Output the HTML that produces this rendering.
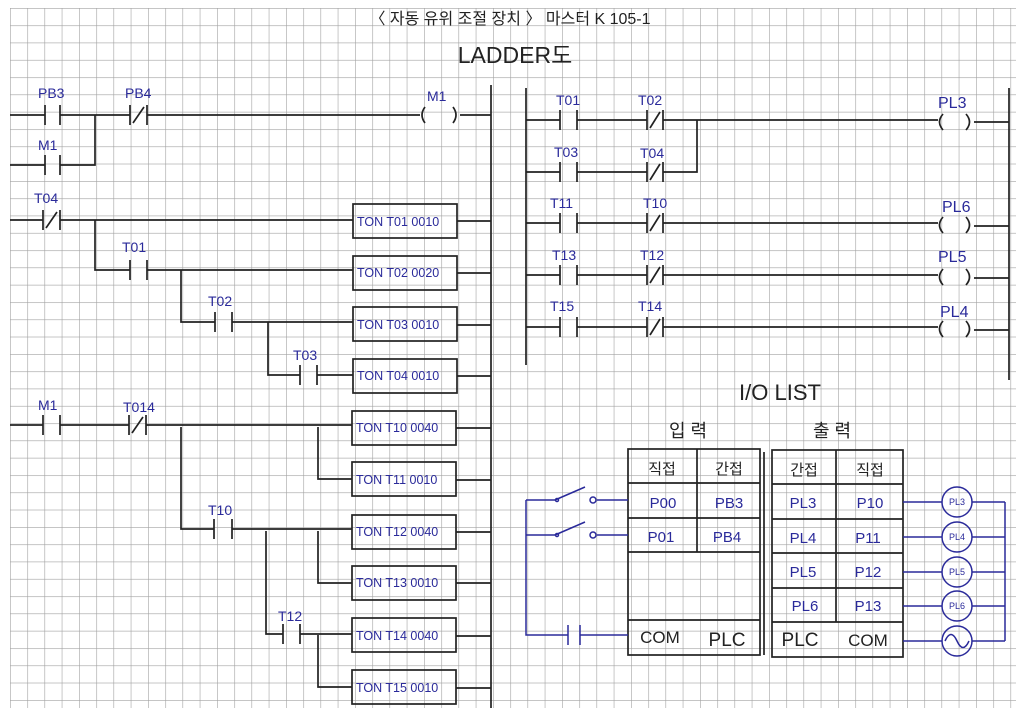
<!DOCTYPE html>
<html><head><meta charset="utf-8"><style>
html,body{margin:0;padding:0;background:#fff;}
svg{display:block}
.b{font-family:"Liberation Sans","Noto Sans CJK KR",sans-serif;fill:#2a2a9a;}
.k{font-family:"Liberation Sans","Noto Sans CJK KR",sans-serif;fill:#222;}
</style></head><body>
<svg width="1024" height="723" viewBox="0 0 1024 723" xmlns="http://www.w3.org/2000/svg">
<defs>
<pattern id="g" x="10" y="8" width="17.25" height="17.3" patternUnits="userSpaceOnUse">
<path d="M0 0H17.25M0 0V17.3" stroke="#a2a2a2" stroke-width="1.2" fill="none"/>
</pattern>
</defs>
<rect x="10" y="8" width="1006" height="700" fill="url(#g)"/>
<g stroke="#222" stroke-width="1.7" fill="none">
<path d="M491 85V708M526 88V365M1009 88V380"/>
<path d="M10 115H45M60 115H130M147 115H420M460 115H491"/>
<path d="M45 105V125M60 105V125M130 105V125M147 105V125M133 123L144 107"/>
<path d="M425 107Q419 115 425 123M453 107Q459 115 453 123"/>
<path d="M10 165H45M60 165H95V115M45 155V175M60 155V175"/>
<path d="M10 220H43M60 220H353M43 210V230M60 210V230M46 228L57 212"/>
<path d="M95 220V270H130M147 270H353M130 260V280M147 260V280"/>
<path d="M181 270V322H215M232 322H353M215 312V332M232 312V332"/>
<path d="M268 322V375H300M317 375H353M300 365V385M317 365V385"/>
<rect x="353" y="204" width="104" height="34"/>
<rect x="353" y="256" width="104" height="34"/>
<rect x="353" y="307" width="104" height="34"/>
<rect x="353" y="359" width="104" height="34"/>
<path d="M457 221H491M457 273H491M457 325H491M457 376H491"/>
<path d="M10 425H43M60 425H129M146 425H352M43 415V435M60 415V435M129 415V435M146 415V435M132 433L143 417"/>
<path d="M318 427V479H352"/>
<path d="M181 427V529H214M232 529H352M214 519V539M232 519V539"/>
<path d="M318 531V583H352"/>
<path d="M266 531V634H283M300 634H352M283 624V644M300 624V644"/>
<path d="M318 635V687H352"/>
<rect x="352" y="411" width="104" height="34"/>
<rect x="352" y="462" width="104" height="34"/>
<rect x="352" y="515" width="104" height="34"/>
<rect x="352" y="566" width="104" height="34"/>
<rect x="352" y="618" width="104" height="34"/>
<rect x="352" y="670" width="104" height="34"/>
<path d="M456 428H491M456 480H491M456 532H491M456 583H491M456 636H491M456 688H491"/>
<g>
<path d="M526 120H560M577 120H647M663 120H938M974 122H1009"/>
<path d="M526 172H560M577 172H647M663 172H697V120"/>
<path d="M526 223H560M577 223H647M663 223H938M974 226H1009"/>
<path d="M526 275H560M577 275H647M663 275H938M974 278H1009"/>
<path d="M526 327H560M577 327H647M663 327H938M974 330H1009"/>
<path d="M560 110V130M577 110V130M647 110V130M663 110V130M650 128L660 112"/>
<path d="M560 162V182M577 162V182M647 162V182M663 162V182M650 180L660 164"/>
<path d="M560 213V233M577 213V233M647 213V233M663 213V233M650 231L660 215"/>
<path d="M560 265V285M577 265V285M647 265V285M663 265V285M650 283L660 267"/>
<path d="M560 317V337M577 317V337M647 317V337M663 317V337M650 335L660 319"/>
<path d="M943 114Q936 122 943 130M966 114Q973 122 966 130"/>
<path d="M943 217Q936 225 943 233M966 217Q973 225 966 233"/>
<path d="M943 269Q936 277 943 285M966 269Q973 277 966 285"/>
<path d="M943 321Q936 329 943 337M966 321Q973 329 966 337"/>
</g>
<rect x="628" y="449" width="132" height="206"/>
<path d="M628 483H760M628 518H760M628 552H760M628 620H760M697 449V552M764 452V655"/>
<rect x="772" y="450" width="131" height="207"/>
<path d="M772 484H903M772 519H903M772 553H903M772 588H903M772 622H903M836 450V622"/>
</g>
<g stroke="#2a2a9a" stroke-width="1.5" fill="none">
<path d="M526 500H555M597 500H628M526 535H555M597 535H628M526 500V635H568M580 635H628"/>
<path d="M555 500L585 487M555 535L585 522"/>
<circle cx="593" cy="500" r="3"/><circle cx="593" cy="535" r="3"/>
<circle cx="557" cy="500" r="1.5"/><circle cx="557" cy="535" r="1.5"/>
<path d="M568 625V645M580 625V645"/>
<path d="M903 502H942M903 537H942M903 572H942M903 606H942M903 641H942"/>
<path d="M972 502H1005M972 537H1005M972 572H1005M972 606H1005M972 641H1005M1005 502V641"/>
<circle cx="957" cy="502" r="15"/><circle cx="957" cy="537" r="15"/><circle cx="957" cy="572" r="15"/><circle cx="957" cy="606" r="15"/><circle cx="957" cy="641" r="15"/>
<path d="M945 641Q951 628 957 641T969 641"/>
</g>
<text class="k" x="510" y="24" font-size="16" text-anchor="middle">〈 자동  유위  조절  장치 〉   마스터 K    105-1</text>
<text class="k" x="515" y="63" font-size="23" text-anchor="middle">LADDER도</text>
<g class="b" font-size="14">
<text x="38" y="98">PB3</text><text x="125" y="98">PB4</text><text x="38" y="150">M1</text>
<text x="34" y="203">T04</text><text x="122" y="252">T01</text><text x="208" y="306">T02</text><text x="293" y="360">T03</text>
<text x="427" y="101">M1</text>
<text x="38" y="410">M1</text><text x="123" y="412">T014</text><text x="208" y="515">T10</text><text x="278" y="621">T12</text>
<text x="556" y="105">T01</text><text x="638" y="105">T02</text><text x="554" y="157">T03</text><text x="640" y="158">T04</text>
<text x="550" y="208">T11</text><text x="643" y="208">T10</text><text x="552" y="260">T13</text><text x="640" y="260">T12</text>
<text x="550" y="311">T15</text><text x="638" y="311">T14</text>
<text x="938" y="108" font-size="16">PL3</text><text x="942" y="212" font-size="16">PL6</text><text x="938" y="262" font-size="16">PL5</text><text x="940" y="317" font-size="16">PL4</text>
</g>
<g class="b" font-size="12.5">
<text x="357" y="226">TON T01 0010</text><text x="357" y="277">TON T02 0020</text><text x="357" y="329">TON T03 0010</text><text x="357" y="380">TON T04 0010</text>
<text x="356" y="432">TON T10 0040</text><text x="356" y="484">TON T11 0010</text><text x="356" y="536">TON T12 0040</text><text x="356" y="587">TON T13 0010</text><text x="356" y="640">TON T14 0040</text><text x="356" y="692">TON T15 0010</text>
</g>
<text class="k" x="780" y="400" font-size="22" text-anchor="middle">I/O LIST</text>
<text class="k" x="688" y="437" font-size="18" text-anchor="middle">입  력</text>
<text class="k" x="832" y="437" font-size="18" text-anchor="middle">출  력</text>
<g class="k" font-size="15" text-anchor="middle">
<text x="662" y="474">직접</text><text x="729" y="474">간접</text><text x="804" y="475">간접</text><text x="870" y="475">직접</text>
<text x="660" y="643" font-size="17">COM</text><text x="727" y="646" font-size="19">PLC</text>
<text x="800" y="646" font-size="19">PLC</text><text x="868" y="646" font-size="17">COM</text>
</g>
<g class="b" font-size="15" text-anchor="middle">
<text x="663" y="508">P00</text><text x="729" y="508">PB3</text><text x="661" y="542">P01</text><text x="727" y="542">PB4</text>
<text x="803" y="508">PL3</text><text x="870" y="508">P10</text><text x="803" y="543">PL4</text><text x="868" y="543">P11</text>
<text x="803" y="577">PL5</text><text x="868" y="577">P12</text><text x="805" y="611">PL6</text><text x="868" y="611">P13</text>
</g>
<g class="b" font-size="9" text-anchor="middle">
<text x="957" y="505">PL3</text><text x="957" y="540">PL4</text><text x="957" y="575">PL5</text><text x="957" y="609">PL6</text>
</g>
</svg>
</body></html>
